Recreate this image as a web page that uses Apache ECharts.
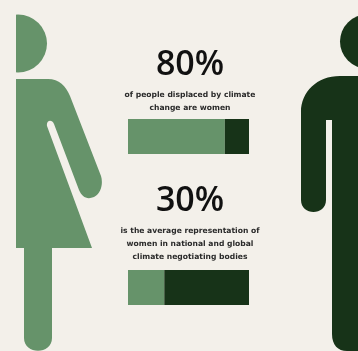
<!DOCTYPE html>
<html>
<head>
<meta charset="utf-8">
<style>
  html, body { margin: 0; padding: 0; background: #f3f0ea; }
  #chart { width: 358px; height: 351px; }
</style>
<script src="https://cdn.jsdelivr.net/npm/echarts@6/dist/echarts.min.js"></script>
</head>
<body>
<div id="chart"></div>
<script>
  // Share of each group, one entry per stat block
  const statLabels = ['80%', '30%'];
  const womenShare = [80, 30];
  const otherShare = [20, 70];
  const captions = [
    'of people displaced by climate\nchange are women',
    'is the average representation of\nwomen in national and global\nclimate negotiating bodies'
  ];

  const GREEN = '#66936a';
  const DARK = '#173318';
  const PAPER = '#f3f0ea';

  // Pictograms are clipped by the page edge on their outer sides
  const womanPath =
    'M16 79 L48 79 C59 79 66 86 70 96 L101 176 ' +
    'C103 182 102 193 94 197 C87 200 82 197 79 190 L54 124 ' +
    'C52 119 46 120 47 126 L92 248 L52 248 L52 338 ' +
    'C52 355 24 355 24 338 L24 248 L16 248 Z';
  const manPath =
    'M358 76 L340 76 C317 76 301 92 301 112 L301 200 ' +
    'C301 216 326 216 326 200 L326 120 L332 120 L332 334 ' +
    'C332 345 338 351 347 351 L358 351 Z';

  echarts.graphic.registerShape('womanFigure', echarts.graphic.extendPath(womanPath));
  echarts.graphic.registerShape('manFigure', echarts.graphic.extendPath(manPath));

  const chart = echarts.init(document.getElementById('chart'), null, { renderer: 'canvas' });

  const grids = [
    { left: 128, top: 119, width: 121, height: 35 },
    { left: 128, top: 270, width: 121, height: 35 }
  ];

  function barSeries(values, color) {
    return values.map((v, i) => ({
      type: 'bar',
      stack: 'stat' + i,
      xAxisIndex: i,
      yAxisIndex: i,
      barWidth: '100%',
      silent: true,
      itemStyle: { color },
      data: [v]
    }));
  }

  const graphics = [
    { type: 'circle', shape: { cx: 18, cy: 43.5, r: 29 }, style: { fill: GREEN } },
    { type: 'rect', shape: { x: 0, y: 0, width: 16, height: 351 }, style: { fill: PAPER } },
    { type: 'womanFigure', style: { fill: GREEN } },
    { type: 'circle', shape: { cx: 367, cy: 41.5, r: 27 }, style: { fill: DARK } },
    { type: 'manFigure', style: { fill: DARK } }
  ];

  const headBaselines = [82, 218];
  const captionTops = [89, 225];
  statLabels.forEach((label, i) => {
    graphics.push({
      type: 'text',
      x: 190,
      y: headBaselines[i],
      style: {
        text: label,
        align: 'center',
        verticalAlign: 'bottom',
        font: '600 34px "Open Sans", sans-serif',
        fill: '#111111'
      }
    });
    graphics.push({
      type: 'text',
      x: 190,
      y: captionTops[i],
      style: {
        text: captions[i],
        align: 'center',
        verticalAlign: 'top',
        font: 'bold 7.6px "DejaVu Sans", sans-serif',
        lineHeight: 12.7,
        fill: '#2a2a2a'
      }
    });
  });

  chart.setOption({
    backgroundColor: PAPER,
    animation: false,
    grid: grids,
    xAxis: grids.map((_, i) => ({ type: 'value', gridIndex: i, min: 0, max: 100, show: false })),
    yAxis: grids.map((_, i) => ({ type: 'category', gridIndex: i, data: [statLabels[i]], show: false })),
    series: [
      ...barSeries(womenShare, GREEN),
      ...barSeries(otherShare, DARK)
    ],
    graphic: graphics
  });
</script>
</body>
</html>
